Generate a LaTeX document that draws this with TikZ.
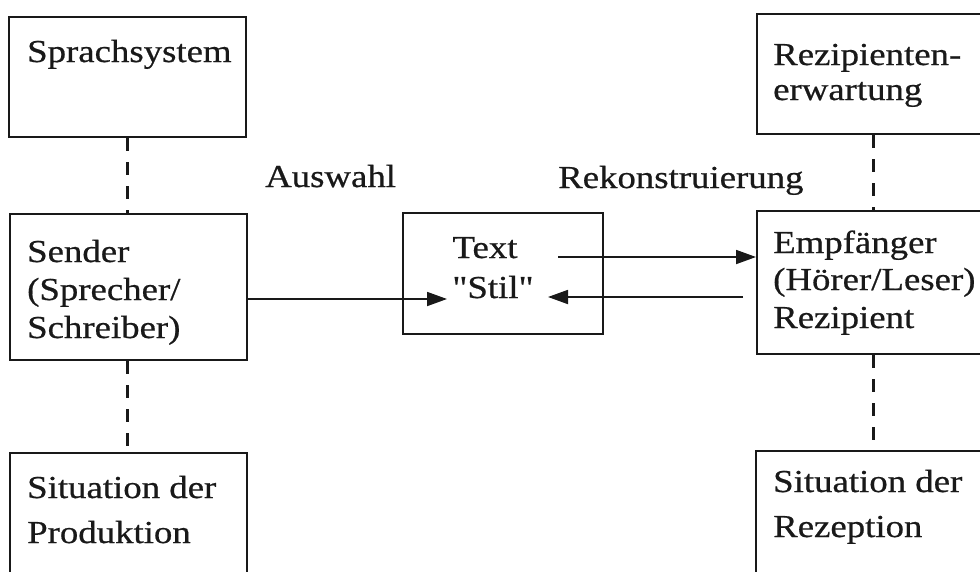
\documentclass[tikz,border=0pt]{standalone}
\usepackage{fontspec}
\setmainfont{Liberation Serif}[FakeStretch=1.15,FakeBold=0.6]
\usetikzlibrary{arrows.meta}
\begin{document}
\begin{tikzpicture}[x=1pt,y=-1pt,
  box/.style={draw=black!90, line width=2pt, rectangle, inner sep=0pt},
  txt/.style={anchor=base west, inner sep=0pt, font=\fontsize{32}{38}\selectfont, text=black!90},
  ctxt/.style={anchor=base, inner sep=0pt, font=\fontsize{32}{38}\selectfont, text=black!90},
  dashline/.style={draw=black!90, line width=2.4pt, dash pattern=on 13pt off 11pt},
  arr/.style={draw=black!90, line width=1.8pt, -{Triangle[length=20pt,width=14pt]}}
]
\fill[white] (0,0) rectangle (980,571);
\useasboundingbox (0,0) rectangle (980,571);

% boxes
\node[box, minimum width=237pt, minimum height=120pt] (sys)    at (127.5,77)   {};
\node[box, minimum width=243pt, minimum height=120pt] (rez)    at (878.5,74)   {};
\node[box, minimum width=237pt, minimum height=146pt] (sender) at (128.5,287)  {};
\node[box, minimum width=200pt, minimum height=121pt] (text)   at (503,273.5)  {};
\node[box, minimum width=243pt, minimum height=143pt] (empf)   at (878.5,282.5){};
\node[box, minimum width=237pt, minimum height=147pt] (sitP)   at (128.5,526.5){};
\node[box, minimum width=244pt, minimum height=149pt] (sitR)   at (878,525.5)  {};

% texts
\node[txt] (sysT)  at (27,62)  {Sprachsystem};
\node[txt] (rezT1) at (773,65) {Rezipienten-};
\node[txt] (rezT2) at (773,100){erwartung};
\node[txt] (senT1) at (27,262) {Sender};
\node[txt] (senT2) at (27,300) {(Sprecher/};
\node[txt] (senT3) at (27,338) {Schreiber)};
\node[ctxt] (texT1) at (485,258) {Text};
\node[ctxt] (texT2) at (493,298) {\addfontfeatures{Ligatures=TeXOff}"Stil"};
\node[txt] (empT1) at (773,253) {Empfänger};
\node[txt] (empT2) at (773,290) {(Hörer/Leser)};
\node[txt] (empT3) at (773,328) {Rezipient};
\node[txt] (spT1) at (27,498) {Situation der};
\node[txt] (spT2) at (27,543) {Produktion};
\node[txt] (srT1) at (773,492) {Situation der};
\node[txt] (srT2) at (773,537) {Rezeption};
\node[txt] (ausw) at (265,187) {Auswahl};
\node[txt] (rekon) at (558,188) {Rekonstruierung};

% dashed connectors
\coordinate (rx) at (873.4,0);
\draw[dashline] (sys.south) -- (sys.south |- sender.north);
\draw[dashline] (sender.south -| sys.south) -- (sys.south |- sitP.north);
\draw[dashline] (rez.south -| rx) -- (empf.north -| rx);
\draw[dashline] (empf.south -| rx) -- (sitR.north -| rx);

% arrows
\coordinate (a1) at (447,299);
\draw[arr] (sender.east |- a1) -- (a1);
\coordinate (b0) at (558,257);
\draw[arr] (b0) -- (empf.west |- b0);
\coordinate (c0) at (743,297);
\coordinate (c1) at (548,297);
\draw[arr] (c0) -- (c1);
\end{tikzpicture}
\end{document}
